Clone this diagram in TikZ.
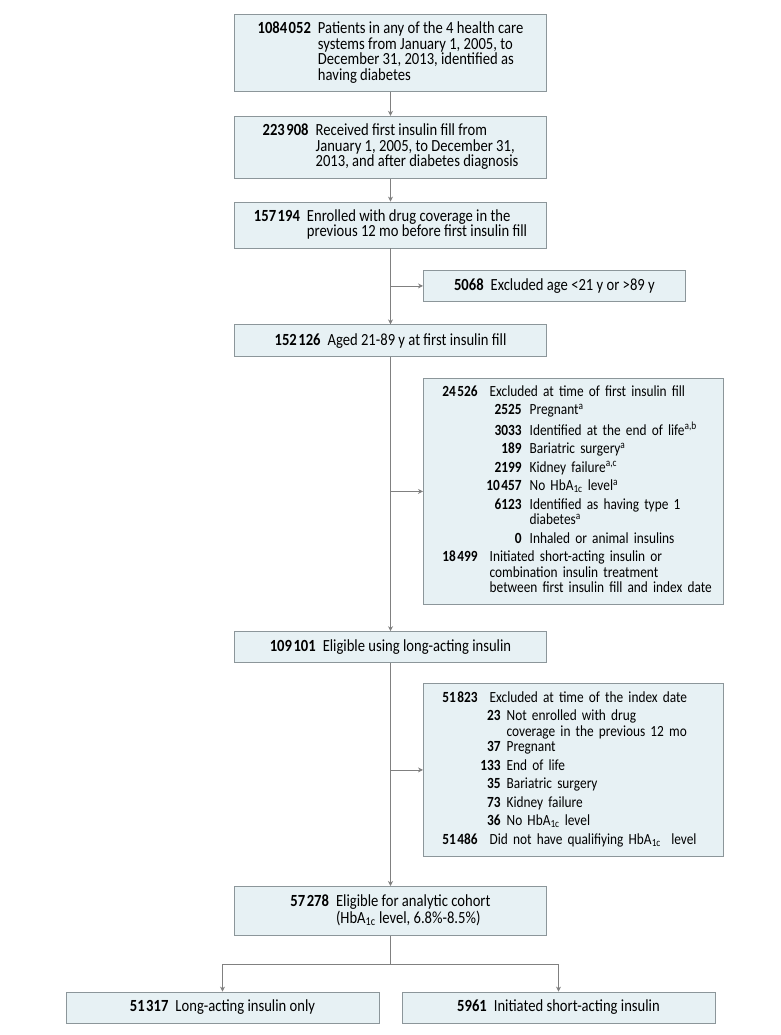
\documentclass[tikz,border=0pt]{standalone}
\usepackage{fontspec}
\setmainfont[FakeStretch=0.86]{Carlito}
\usepackage{array}
\usepackage{tikz}
\usetikzlibrary{arrows.meta,positioning}

\definecolor{boxfill}{RGB}{231,241,244}
\definecolor{boxline}{RGB}{140,150,154}
\definecolor{flowline}{RGB}{128,128,128}
\newcommand{\num}[1]{\textbf{#1}}
\newcommand{\hba}{HbA\textsubscript{1c}}
\newcommand{\sgap}{\kern1.5pt}

\begin{document}
\begin{tikzpicture}[
    x=1pt, y=-1pt,
    box/.style={rectangle, draw=boxline, fill=boxfill, line width=0.8pt, minimum width=312pt, inner sep=0pt,
        font=\fontsize{17}{15.7}\selectfont\def\arraystretch{0.8}},
    exbox/.style={rectangle, draw=boxline, fill=boxfill, line width=0.8pt, anchor=north west, inner ysep=0pt,
        inner xsep=19pt, align=left, font=\fontsize{15.5}{15.5}\selectfont},
    flow/.style={-{Stealth[length=5pt, width=5pt]}, line width=0.8pt, flowline}
]
\useasboundingbox (0,0) rectangle (780,1035);

% Main chain of the cohort
\node[box, minimum height=77pt, anchor=north] (all) at (390.5,14) {\begin{tabular}{@{}r@{\hspace{7pt}}l@{}}
\num{1084\sgap052} & Patients in any of the 4 health care\\
 & systems from January 1, 2005, to\\
 & December 31, 2013, identified as\\
 & having diabetes
\end{tabular}};
\node[box, minimum height=62pt, below=24pt of all] (fill) {\begin{tabular}{@{}r@{\hspace{7pt}}l@{}}
\num{223\sgap908} & Received first insulin fill from\\
 & January 1, 2005, to December 31,\\
 & 2013, and after diabetes diagnosis
\end{tabular}};
\node[box, minimum height=46pt, below=23pt of fill] (cover) {\begin{tabular}{@{}r@{\hspace{7pt}}l@{}}
\num{157\sgap194} & Enrolled with drug coverage in the\\
 & previous 12 mo before first insulin fill
\end{tabular}};
\node[box, minimum height=32pt, below=76pt of cover] (aged) {\num{152\sgap126}\hspace{7pt}Aged 21-89 y at first insulin fill};
\node[box, minimum height=31pt, below=274pt of aged] (eligible) {\num{109\sgap101}\hspace{7pt}Eligible using long-acting insulin};
\node[box, minimum height=49pt, below=223pt of eligible] (cohort) {\begin{tabular}{@{}r@{\hspace{7pt}}l@{}}
\num{57\sgap278} & Eligible for analytic cohort\\
 & (\hba{} level, 6.8\%-8.5\%)
\end{tabular}};

% Exclusions on the right
\node[exbox, align=center, inner xsep=0pt, minimum width=262pt, minimum height=31pt, font=\fontsize{17}{15.7}\selectfont] (age) at (423,270) {\num{5068}\hspace{7pt}Excluded age <21 y or >89 y};
\node[exbox, text width=262pt, minimum height=226pt] (first) at (423,378) {\noindent\begin{tabular}{@{}r@{\hspace{6pt}}w{r}{38pt}@{\hspace{8pt}}l@{}}
\num{24\sgap526} & \multicolumn{2}{l@{}}{Excluded at time of first insulin fill}\\[3pt]
 & \num{2525} & Pregnant\textsuperscript{a}\\[3pt]
 & \num{3033} & Identified at the end of life\textsuperscript{a,b}\\[3pt]
 & \num{189} & Bariatric surgery\textsuperscript{a}\\[3pt]
 & \num{2199} & Kidney failure\textsuperscript{a,c}\\[3pt]
 & \num{10\sgap457} & No \hba{} level\textsuperscript{a}\\[3pt]
 & \num{6123} & Identified as having type 1\\
 & & diabetes\textsuperscript{a}\\[3pt]
 & \num{0} & Inhaled or animal insulins\\[3pt]
\num{18\sgap499} & \multicolumn{2}{l@{}}{Initiated short-acting insulin or}\\
 & \multicolumn{2}{l@{}}{combination insulin treatment}\\
 & \multicolumn{2}{l@{}}{between first insulin fill and index date}
\end{tabular}};
\node[exbox, text width=262pt, minimum height=173pt] (index) at (423,683) {\noindent\begin{tabular}{@{}r@{\hspace{6pt}}w{r}{17pt}@{\hspace{6pt}}l@{}}
\num{51\sgap823} & \multicolumn{2}{l@{}}{Excluded at time of the index date}\\[3pt]
 & \num{23} & Not enrolled with drug\\
 & & coverage in the previous 12 mo\\
 & \num{37} & Pregnant\\[3pt]
 & \num{133} & End of life\\[3pt]
 & \num{35} & Bariatric surgery\\[3pt]
 & \num{73} & Kidney failure\\[3pt]
 & \num{36} & No \hba{} level\\[3pt]
\num{51\sgap486} & \multicolumn{2}{l@{}}{Did not have qualifiying \hba{}\ \ level}
\end{tabular}};

% Final groups
\node[box, minimum width=313pt, minimum height=31pt] (longonly) at (222.5,1007.5) {\num{51\sgap317}\hspace{7pt}Long-acting insulin only};
\node[box, minimum width=313pt, minimum height=31pt] (shortact) at (558.5,1007.5) {\num{5961}\hspace{7pt}Initiated short-acting insulin};

\draw[flow] (all) -- (fill);
\draw[flow] (fill) -- (cover);
\draw[flow] (cover) -- (aged);
\draw[flow] (cover.south |- age.west) -- (age.west);
\draw[flow] (aged) -- (eligible);
\draw[flow] (aged.south |- first.west) -- (first.west);
\draw[flow] (eligible) -- (cohort);
\draw[flow] (eligible.south |- index.west) -- (index.west);
\draw[line width=0.8pt, flowline] (cohort.south) -- ++(0,29) coordinate (split);
\draw[flow] (split) -| (longonly);
\draw[flow] (split) -| (shortact);
\end{tikzpicture}
\end{document}
